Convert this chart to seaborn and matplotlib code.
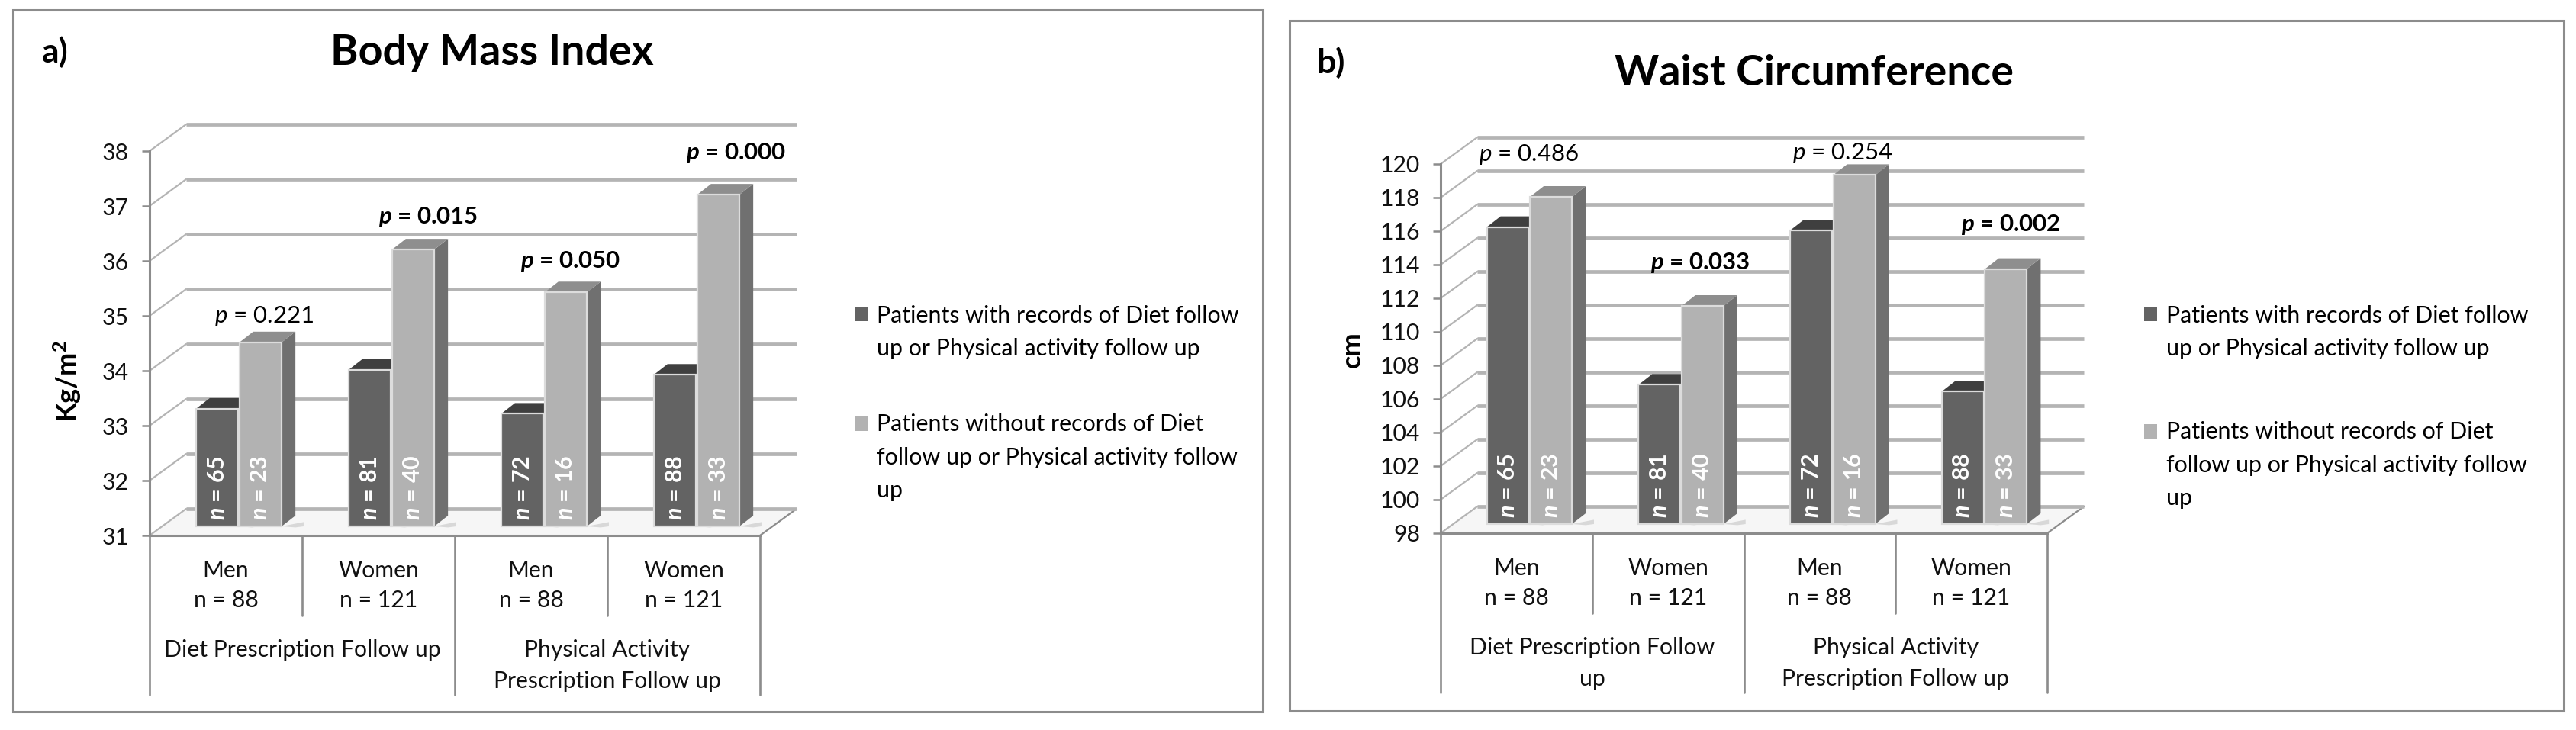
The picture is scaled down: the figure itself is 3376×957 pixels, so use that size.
import seaborn as sns
import pandas as pd
import matplotlib
matplotlib.use('Agg')
import matplotlib.pyplot as plt
from matplotlib.patches import Rectangle, Polygon
from matplotlib.transforms import Affine2D, blended_transform_factory

# values
group_ids = [0, 1, 2, 3]
sex_labels = ['Men\nn = 88', 'Women\nn = 121', 'Men\nn = 88', 'Women\nn = 121']
series_names = ['Patients with records of Diet follow\nup or Physical activity follow up',
                'Patients without records of Diet\nfollow up or Physical activity follow\nup']

bmi_with = [33.14, 33.85, 33.05, 33.76]
bmi_without = [34.35, 36.04, 35.26, 37.04]
waist_with = [115.7, 106.3, 115.5, 105.9]
waist_without = [117.5, 111.0, 118.8, 113.2]

n_with = [65, 81, 72, 88]
n_without = [23, 40, 16, 33]

bmi_p = ['0.221', '0.015', '0.050', '0.000']
bmi_p_bold = [False, True, True, True]
waist_p = ['0.486', '0.033', '0.254', '0.002']
waist_p_bold = [False, True, False, True]

bmi_ticks = [31, 32, 33, 34, 35, 36, 37, 38]
waist_ticks = [98, 100, 102, 104, 106, 108, 110, 112, 114, 116, 118, 120]

DARK = '#636363'
LIGHT = '#b2b2b2'
GRID = '#b4b4b4'
AXC = '#8c8c8c'
LABEL_SIZE = 21.7

W, H = 3376, 957

sns.set_style('white')
plt.rcParams['font.family'] = ['Lato', 'DejaVu Sans']
plt.rcParams['mathtext.fontset'] = 'custom'
plt.rcParams['mathtext.rm'] = 'Lato'
plt.rcParams['mathtext.it'] = 'Lato:italic'
plt.rcParams['mathtext.bf'] = 'Lato:bold'
plt.rcParams['mathtext.bfit'] = 'Lato:italic:bold'

fig = plt.figure(figsize=(W / 100, H / 100), dpi=100, facecolor='white')
# pixel coordinates of the reference, y going down
px = Affine2D().scale(1, -1).translate(0, H)


def draw_panel(frame, box, title, title_xy, tag, tag_xy, ylab, ylab_x, with_vals, without_vals,
               ticks, p_vals, p_bold, p_xy, cat2, leg_xy, leg_gap):
    x0, y0, x1, y1 = box
    frame_x0, frame_y0, frame_x1, frame_y1 = frame
    fig.add_artist(Rectangle((frame_x0, frame_y0), frame_x1 - frame_x0, frame_y1 - frame_y0, transform=px,
                             fill=False, edgecolor=AXC, lw=2.2))

    ax = fig.add_axes([x0 / W, 1 - y0 / H, (x1 - x0) / W, (y0 - y1) / H])
    df = pd.DataFrame({
        'group': group_ids * 2,
        'value': with_vals + without_vals,
        'series': [series_names[0]] * 4 + [series_names[1]] * 4,
    })
    sns.barplot(data=df, x='group', y='value', hue='series', palette=[DARK, LIGHT], width=0.57, gap=0.03,
                edgecolor='#dcdcdc', linewidth=1.6, saturation=1, ax=ax, zorder=5)
    ax.set_xlim(-0.5, 3.5)
    ax.set_ylim(ticks[0], ticks[-1])
    ax.set_xlabel('')
    ax.set_ylabel('')
    ax.set_xticks([])
    ax.set_yticks(ticks)
    ax.tick_params(axis='y', left=True, length=7.5, width=1.8, color=AXC, labelsize=LABEL_SIZE, pad=12,
                   labelcolor='#111111')
    for s in ['top', 'right']:
        ax.spines[s].set_visible(False)
    for s in ['left', 'bottom']:
        ax.spines[s].set_color(AXC)
        ax.spines[s].set_linewidth(2.2)
    ax.patch.set_alpha(0)

    # pixels to data units
    ux = (x1 - x0) / 4
    uy = (y0 - y1) / (ticks[-1] - ticks[0])
    wall_x, wall_y = 48 / ux, 35 / uy
    shift_x, shift_y = 17 / ux, 12 / uy
    depth_x, depth_y = 18 / ux, 14 / uy
    base = ticks[0]

    # floor and walls
    ax.add_patch(Polygon([(-0.5, base), (3.5, base), (3.5 + wall_x, base + wall_y), (-0.5 + wall_x, base + wall_y)],
                         facecolor='#f6f6f6', edgecolor='none', clip_on=False, zorder=0))
    ax.plot([3.5, 3.5 + wall_x], [base, base + wall_y], color=AXC, lw=1.6, clip_on=False, zorder=1)
    for t in ticks:
        ax.plot([-0.5, -0.5 + wall_x], [t, t + wall_y], color=GRID, lw=1.6, clip_on=False, zorder=1)
        ax.plot([-0.5 + wall_x, 3.5 + wall_x], [t + wall_y, t + wall_y], color=GRID, lw=3.4,
                clip_on=False, zorder=1, solid_capstyle='butt')

    # move the bars into the scene and give them sides and tops
    side_cols = ['#555555', '#707070']
    top_cols = ['#3f3f3f', '#8e8e8e']
    n_lists = [n_with, n_without]
    for c, container in enumerate(ax.containers):
        for i, bar in enumerate(container):
            val = bar.get_height()
            left = bar.get_x() + shift_x
            right = left + bar.get_width()
            low = base + shift_y
            high = low + val - base
            bar.set_x(left)
            bar.set_y(low)
            bar.set_height(val - base)
            bar.set_clip_on(False)
            bar.set_zorder(4 + c * 2)
            ax.add_patch(Polygon([(right, low), (right + depth_x, low + depth_y),
                                  (right + depth_x, high + depth_y), (right, high)],
                                 facecolor=side_cols[c], edgecolor='none', clip_on=False, zorder=3 + c * 2))
            ax.add_patch(Polygon([(left, high), (right, high), (right + depth_x, high + depth_y),
                                  (left + depth_x, high + depth_y)],
                                 facecolor=top_cols[c], edgecolor='none', clip_on=False, zorder=3 + c * 2))
            # shadow on the floor
            ax.add_patch(Polygon([(right, low), (right + 1.6 * depth_x, low + 0.4 * depth_y),
                                  (right + 1.6 * depth_x, low), (right + depth_x, low - 0.1 * depth_y)],
                                 facecolor='#d8d8d8', edgecolor='none', clip_on=False, zorder=2))
            ax.text((left + right) / 2, low + 8 / uy, r'$\mathbfit{n}$ = %d' % n_lists[c][i], rotation=90,
                    ha='center', va='bottom', color='white', fontsize=22, fontweight='bold', zorder=12)

    # category table under the axis
    bx = blended_transform_factory(ax.transData, px)
    for g in group_ids:
        men, n_txt = sex_labels[g].split('\n')
        fig.text(g, y0 + 46, men, transform=bx, ha='center', va='center', fontsize=LABEL_SIZE, color='#111111')
        fig.text(g, y0 + 85, n_txt, transform=bx, ha='center', va='center', fontsize=LABEL_SIZE, color='#111111')
    for v, low_end in [(-0.5, 209), (0.5, 105), (1.5, 209), (2.5, 105), (3.5, 209)]:
        ax.plot([v, v], [y0, y0 + low_end], transform=bx, color=AXC, lw=1.9, clip_on=False)
    for center, lines in cat2:
        for k, line in enumerate(lines):
            fig.text(center, y0 + 150 + k * 41, line, transform=bx, ha='center', va='center', fontsize=LABEL_SIZE,
                     color='#111111')

    # p labels
    for p, bold, (xp, yp) in zip(p_vals, p_bold, p_xy):
        if bold:
            fig.text(xp, yp, r'$\mathbfit{p}$ = ' + p, transform=px, ha='center', va='center', fontsize=22.5,
                     fontweight='bold', color='black')
        else:
            fig.text(xp, yp, r'$\mathit{p}$ = ' + p, transform=px, ha='center', va='center', fontsize=22.5,
                     color='black')

    fig.text(title_xy[0], title_xy[1], title, transform=px, ha='center', va='center', fontsize=40,
             fontweight='bold', color='black')
    fig.text(tag_xy[0], tag_xy[1], tag, transform=px, ha='left', va='center', fontsize=32,
             fontweight='bold', color='black')
    fig.text(ylab_x[0], ylab_x[1], ylab, transform=px, ha='center', va='center', rotation=90, fontsize=26,
             fontweight='bold', color='black')

    leg = ax.legend(loc='upper left', bbox_to_anchor=leg_xy, bbox_transform=px, frameon=False, fontsize=21.9,
                    handlelength=0.55, handleheight=0.55, handletextpad=0.4, labelspacing=leg_gap,
                    borderpad=0, borderaxespad=0, title=None)
    for t in leg.get_texts():
        t.set_linespacing(1.67)
        t.set_color('black')
    # handles sit beside the first line of each entry, not in the middle
    for h, lift_px in zip(leg.legend_handles, [25, 45]):
        h.set_linewidth(0)
        h.set_y(h.get_y() + lift_px * 0.72)
    return ax


draw_panel((17, 13, 1655, 933), (196, 702, 996, 198), 'Body Mass Index', (645, 69), 'a)', (55, 68),
           'Kg/m$\\mathbf{^2}$', (88, 500), bmi_with, bmi_without, bmi_ticks, bmi_p, bmi_p_bold,
           [(346, 415), (561, 284), (748, 343), (965, 201)],
           [(0.5, ['Diet Prescription Follow up']), (2.5, ['Physical Activity', 'Prescription Follow up'])],
           (1120, 400), 2.33)

draw_panel((1690, 27, 3360, 932), (1888, 699, 2683, 215), 'Waist Circumference', (2377, 96), 'b)', (1725, 82),
           'cm', (1772, 458), waist_with, waist_without, waist_ticks, waist_p, waist_p_bold,
           [(2004, 203), (2228, 344), (2415, 200), (2635, 295)],
           [(0.5, ['Diet Prescription Follow', 'up']), (2.5, ['Physical Activity', 'Prescription Follow up'])],
           (2810, 400), 2.66)

fig.savefig('out.png', dpi=100, facecolor='white')
